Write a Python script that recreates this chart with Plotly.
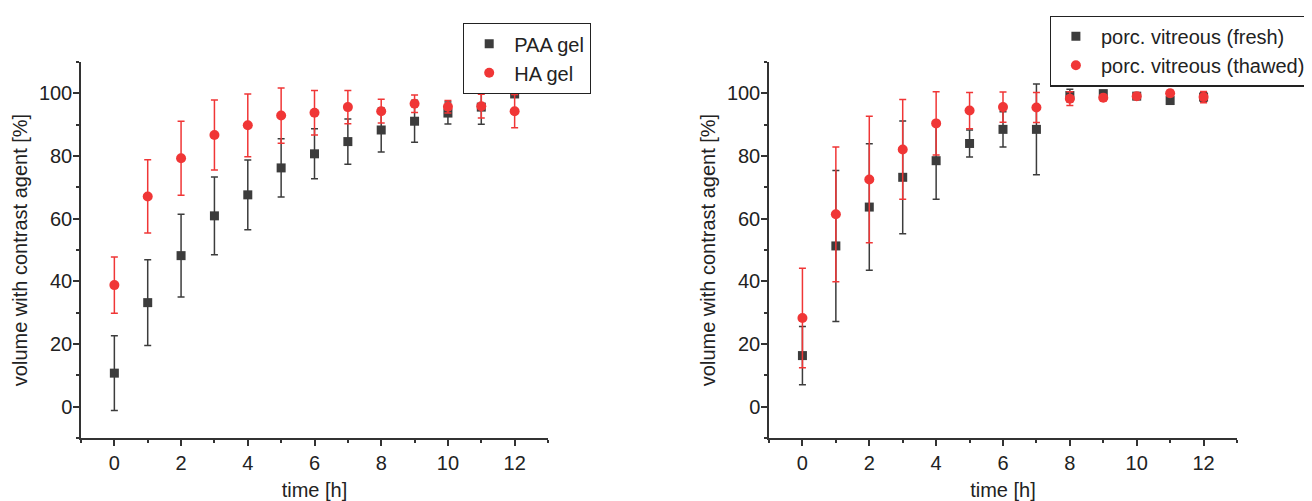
import plotly.graph_objects as go

# ---- data ----
time_h = [0, 1, 2, 3, 4, 5, 6, 7, 8, 9, 10, 11, 12]

paa_gel = [10.7, 33.2, 48.2, 60.9, 67.6, 76.2, 80.7, 84.6, 88.3, 91.1, 93.7, 95.6, 99.8]
paa_gel_err = [11.9, 13.7, 13.2, 12.4, 11.1, 9.3, 8.0, 7.2, 7.0, 6.7, 3.5, 5.5, 0.5]
ha_gel = [38.8, 67.1, 79.3, 86.7, 89.8, 92.9, 93.8, 95.6, 94.3, 96.7, 95.7, 95.9, 94.3]
ha_gel_err = [9.0, 11.7, 11.8, 11.2, 10.0, 8.8, 7.1, 5.3, 3.8, 2.8, 2.0, 3.8, 5.3]

vit_fresh = [16.3, 51.3, 63.7, 73.2, 78.5, 84.0, 88.5, 88.5, 99.3, 99.9, 99.1, 97.7, 98.8]
vit_fresh_err = [9.3, 24.1, 20.2, 18.0, 12.3, 4.3, 5.6, 14.5, 2.0, 1.0, 0.5, 1.0, 1.5]
vit_thawed = [28.3, 61.4, 72.5, 82.1, 90.4, 94.5, 95.6, 95.5, 98.3, 98.6, 99.1, 100.0, 98.8]
vit_thawed_err = [15.9, 21.5, 20.2, 15.9, 10.1, 5.8, 4.8, 4.8, 2.2, 1.0, 0.5, 1.0, 1.8]

x_ticks = [0, 2, 4, 6, 8, 10, 12]
y_ticks = [0, 20, 40, 60, 80, 100]

BLACK = "#3c3c3c"
RED = "#f03636"
FONT = "Arial, Liberation Sans, sans-serif"
FS = 20

# page has an 8px body margin: figure pixel = screen pixel - 8
OFF = 8
W, H = 1312 - OFF, 501 - OFF


def px_x(p):
    return (p - OFF) / W


def px_y(p):
    return 1 - (p - OFF) / H


def series(x, y, err, name, color, symbol, size, xa, ya, legend):
    return go.Scatter(
        x=x, y=y, name=name, mode="markers",
        marker=dict(color=color, symbol=symbol, size=size, line=dict(width=0)),
        error_y=dict(type="data", array=err, visible=True, color=color,
                     thickness=1.5, width=3.5),
        xaxis=xa, yaxis=ya, legend=legend,
    )


fig = go.Figure()
fig.add_trace(series(time_h, paa_gel, paa_gel_err, "PAA gel", BLACK, "square", 9, "x", "y", "legend"))
fig.add_trace(series(time_h, ha_gel, ha_gel_err, "HA gel", RED, "circle", 10, "x", "y", "legend"))
fig.add_trace(series(time_h, vit_fresh, vit_fresh_err, "porc. vitreous (fresh)", BLACK, "square", 9, "x2", "y2", "legend2"))
fig.add_trace(series(time_h, vit_thawed, vit_thawed_err, "porc. vitreous (thawed)", RED, "circle", 10, "x2", "y2", "legend2"))

y_dom = [px_y(438), px_y(62)]

xcommon = dict(
    range=[-1, 13], tickvals=x_ticks, ticks="outside", ticklen=6, tickwidth=1.5,
    tickcolor="#333", showline=True, linecolor="#333", linewidth=1.5,
    showgrid=False, zeroline=False, tickfont=dict(size=FS, color="#222", family=FONT),
    minor=dict(dtick=1, tick0=0, ticks="outside", ticklen=3, tickwidth=1.5, tickcolor="#333", showgrid=False),
    title=dict(text="time [h]", font=dict(size=FS, color="#222", family=FONT), standoff=12),
    automargin=False, fixedrange=True,
)
ycommon = dict(
    range=[-10, 110], tickvals=y_ticks, ticks="outside", ticklen=6, tickwidth=1.5,
    tickcolor="#333", showline=True, linecolor="#333", linewidth=1.5,
    showgrid=False, zeroline=False, tickfont=dict(size=FS, color="#222", family=FONT),
    ticklabelstandoff=-3,
    minor=dict(dtick=10, tick0=0, ticks="outside", ticklen=3, tickwidth=1.5, tickcolor="#333", showgrid=False),
    title=dict(text="volume with contrast agent [%]", font=dict(size=FS, color="#222", family=FONT), standoff=6),
    automargin=False, fixedrange=True, domain=y_dom,
)

legend_common = dict(
    yanchor="top", bordercolor="#222", borderwidth=1.2,
    bgcolor="white", font=dict(size=FS, color="#222", family=FONT),
    tracegroupgap=0, itemwidth=40,
)

fig.update_layout(
    width=W, height=H,
    margin=dict(l=0, r=0, t=0, b=0),
    paper_bgcolor="white", plot_bgcolor="white",
    font=dict(family=FONT, size=FS, color="#222"),
    xaxis=dict(**xcommon, domain=[px_x(81), px_x(548)], anchor="y"),
    yaxis=dict(**ycommon, anchor="x"),
    xaxis2=dict(**xcommon, domain=[px_x(769), px_x(1237)], anchor="y2"),
    yaxis2=dict(**ycommon, anchor="x2"),
    legend=dict(x=px_x(463), y=px_y(23), xanchor="left", **legend_common),
    legend2=dict(x=0.999, y=px_y(15.5), xanchor="right", **legend_common),
    showlegend=True,
)

fig.write_html("out.html")
